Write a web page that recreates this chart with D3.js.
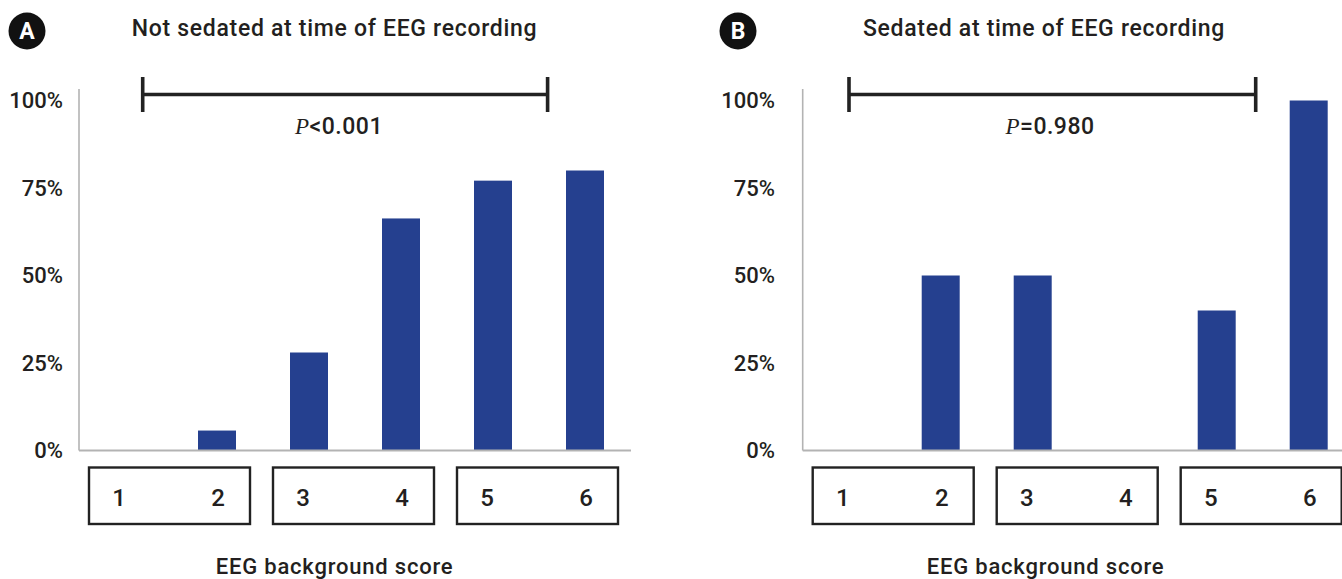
<!DOCTYPE html>
<html>
<head>
<meta charset="utf-8">
<script src="https://cdn.jsdelivr.net/npm/d3@7"></script>
<style>
  html, body { margin: 0; padding: 0; background: #fff; }
  svg { display: block; }
</style>
</head>
<body>
<svg id="chart" width="1342" height="579"></svg>
<script>
// EEG background score categories
const categories = ["1", "2", "3", "4", "5", "6"];
// Share of patients (%) per score, by sedation status at EEG recording
const notSedatedPct = [0, 5.7, 28, 66.3, 77.1, 80];
const sedatedPct = [0, 50, 50, 0, 40, 100];
// Y-axis ticks
const yTicks = [0, 25, 50, 75, 100];
// Score groupings shown as boxes below the axis
const scoreGroups = [["1", "2"], ["3", "4"], ["5", "6"]];
// Panel texts
const panelLetters = ["A", "B"];
const panelTitles = ["Not sedated at time of EEG recording", "Sedated at time of EEG recording"];
const pSymbols = ["<0.001", "=0.980"];
const xAxisTitle = "EEG background score";

const BAR = "#25408f";
const INK = "#231f20";
const GRID = "#b3b3b3";
const SANS = "Roboto, 'Liberation Sans', Arial, sans-serif";

const svg = d3.select("#chart");

const y = d3.scaleLinear().domain([0, 100]).range([450.5, 100.5]);

const panels = [
  { values: notSedatedPct, axisX: 79, plotRight: 631, tickLabelX: 63, letterX: 27,
    titleX: 334.5, bracket: [142.7, 547.6], pX: 339, xTitleX: 334.6 },
  { values: sedatedPct, axisX: 802.7, plotRight: 1354.7, tickLabelX: 775, letterX: 738,
    titleX: 1044, bracket: [849, 1255.7], pX: 1050, xTitleX: 1045.6 }
];

panels.forEach((p, i) => {
  const g = svg.append("g");

  const x = d3.scaleBand()
    .domain(categories)
    .range([p.axisX, p.plotRight])
    .paddingInner(0.587)
    .paddingOuter(0.2935);
  const cx = c => x(c) + x.bandwidth() / 2;

  // panel letter badge
  g.append("circle").attr("cx", p.letterX).attr("cy", 31).attr("r", 18.5).attr("fill", "#111");
  g.append("text").attr("x", p.letterX).attr("y", 31).attr("dy", "0.36em")
    .attr("text-anchor", "middle").attr("fill", "#fff")
    .style("font", `bold 23px ${SANS}`).text(panelLetters[i]);

  // panel title
  g.append("text").attr("x", p.titleX).attr("y", 36)
    .attr("text-anchor", "middle").attr("fill", INK)
    .style("font", `500 23px ${SANS}`).style("letter-spacing", "0.7px")
    .text(panelTitles[i]);

  // bars
  g.selectAll("rect.bar")
    .data(categories.map((c, k) => ({ c, v: p.values[k] })).filter(d => d.v > 0))
    .join("rect").attr("class", "bar")
    .attr("x", d => x(d.c)).attr("width", x.bandwidth())
    .attr("y", d => y(d.v)).attr("height", d => y(0) - y(d.v))
    .attr("fill", BAR);

  // y axis
  const yAxis = d3.axisLeft(y).tickValues(yTicks).tickSize(0)
    .tickPadding(p.axisX - p.tickLabelX).tickFormat(d => d + "%");
  const ag = g.append("g").attr("transform", `translate(${p.axisX},0)`).call(yAxis);
  ag.select(".domain").remove();
  ag.selectAll("text").attr("fill", INK).style("font", `500 22px ${SANS}`);

  g.append("line").attr("x1", p.axisX).attr("x2", p.axisX)
    .attr("y1", 89).attr("y2", y(0))
    .attr("stroke", GRID).attr("stroke-width", 1.6);
  g.append("line").attr("x1", p.axisX).attr("x2", p.plotRight)
    .attr("y1", y(0)).attr("y2", y(0))
    .attr("stroke", GRID).attr("stroke-width", 1.8);

  // significance bracket
  const [bx0, bx1] = p.bracket;
  const by = 94.5;
  g.append("path")
    .attr("d", `M${bx0},${by}H${bx1}M${bx0},77V112M${bx1},77V112`)
    .attr("fill", "none").attr("stroke", "#222").attr("stroke-width", 3.6);
  const pt = g.append("text").attr("x", p.pX).attr("y", 126).attr("dy", "0.35em")
    .attr("text-anchor", "middle").attr("fill", INK)
    .style("font", `500 23px ${SANS}`).style("letter-spacing", "0.5px");
  pt.append("tspan").style("font-family", "'Liberation Serif', 'Times New Roman', serif")
    .style("font-style", "italic").style("font-weight", "normal").text("P");
  pt.append("tspan").text(pSymbols[i]);

  // score group boxes with category labels
  scoreGroups.forEach(([a, b]) => {
    const x0 = cx(a) - 36, x1 = cx(b) + 33;
    g.append("rect").attr("x", x0).attr("y", 467.5)
      .attr("width", x1 - x0).attr("height", 56.5)
      .attr("fill", "none").attr("stroke", "#222").attr("stroke-width", 2.4);
    g.append("text").attr("x", cx(a) - 6).attr("y", 497).attr("dy", "0.36em")
      .attr("text-anchor", "middle").attr("fill", INK)
      .style("font", `500 24px ${SANS}`).text(a);
    g.append("text").attr("x", cx(b) + 1).attr("y", 497).attr("dy", "0.36em")
      .attr("text-anchor", "middle").attr("fill", INK)
      .style("font", `500 24px ${SANS}`).text(b);
  });

  // x-axis title
  g.append("text").attr("x", p.xTitleX).attr("y", 574)
    .attr("text-anchor", "middle").attr("fill", INK)
    .style("font", `500 22px ${SANS}`).style("letter-spacing", "0.8px")
    .text(xAxisTitle);
});
</script>
</body>
</html>
